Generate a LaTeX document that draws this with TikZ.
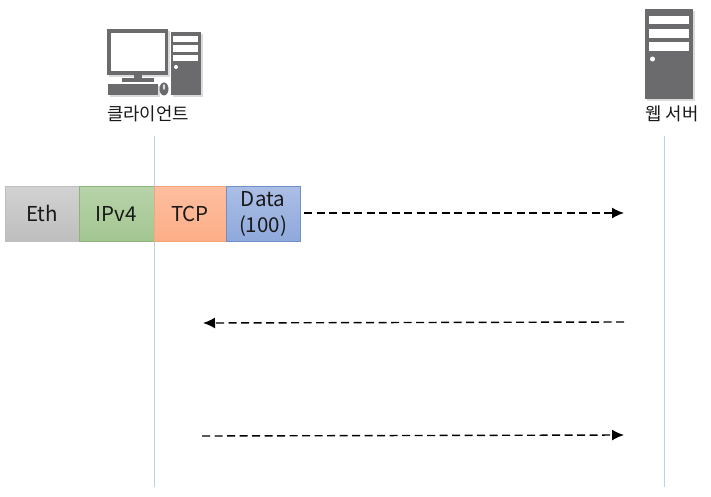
\documentclass[tikz,border=0pt]{standalone}
\usepackage{fontspec}
\setmainfont{Noto Sans CJK KR}
\usepackage{tikz}
\usetikzlibrary{arrows.meta}

\definecolor{icon}{HTML}{6B6B6D}
\definecolor{lifeline}{HTML}{BCD0E6}
\definecolor{ethtop}{HTML}{D2D2D2}
\definecolor{ethbot}{HTML}{BEBEBE}
\definecolor{iptop}{HTML}{B7D3AA}
\definecolor{ipbot}{HTML}{A3C691}
\definecolor{ipline}{HTML}{8DB57A}
\definecolor{tcptop}{HTML}{FDBE9F}
\definecolor{tcpbot}{HTML}{FDAE87}
\definecolor{tcpline}{HTML}{F5A67A}
\definecolor{datatop}{HTML}{ABBEE5}
\definecolor{databot}{HTML}{8FA9DC}
\definecolor{dataline}{HTML}{7090CC}

\begin{document}
\begin{tikzpicture}[x=1pt,y=-1pt]
  \tikzset{field/.style = {shape=rectangle,draw,minimum height=55pt,inner sep=0pt,font=\fontsize{20.5}{26}\selectfont,text=black!90,align=center}}
  \tikzset{caption/.style = {inner sep=0pt,font=\fontsize{17.8}{20}\selectfont,text=black!90}}
  \tikzset{msg/.style = {-{Latex[length=12pt,width=11pt]},dashed,dash pattern=on 8pt off 4.5pt,line width=1.4pt,black}}
  \tikzset{life/.style = {lifeline,line width=0.9pt}}
  \tikzset{shadow/.style = {fill=black!14,draw=none}}
  \tikzset{part/.style = {fill=icon,draw=none}}
  \tikzset{bay/.style = {fill=white,draw=none}}

  \useasboundingbox (0,0) rectangle (711,497);

  \node[caption] (C) at (148,114) {클라이언트};
  \node[caption] (S) at (672,114) {웹 서버};

  \coordinate (Ct) at (154.6,136);
  \coordinate (Cb) at (154.6,487);
  \coordinate (St) at (664,136);
  \coordinate (Sb) at (664,487);
  \foreach \from/\to in {Ct/Cb, St/Sb}
    \draw[life] (\from) -- (\to);

  % client
  \fill[shadow] (109,31) rectangle (170,77);
  \fill[shadow] (173,34) rectangle (203,97);
  \fill[shadow] (110,86) rectangle (160,97);
  \fill[part] (107,29) rectangle (168,75);
  \fill[bay] (111,33) rectangle (165,71);
  \fill[part] (134,75) rectangle (142,79);
  \fill[part] (122,78) rectangle (154,82);
  \fill[part] (108,84) rectangle (158,95);
  \fill[part] (164,89) ellipse [x radius=4.5,y radius=6.5];
  \fill[white!75!icon] (164,87) ellipse [x radius=1.2,y radius=3];
  \fill[part] (171,32) rectangle (201,95);
  \foreach \upper/\lower in {36/42, 45/52, 55/61}
    \fill[bay] (173,\upper) rectangle (198,\lower);
  \fill[bay] (176,67) circle (2);

  % server
  \fill[shadow] (647,11) rectangle (695,101);
  \fill[part] (645,9) rectangle (693,99);
  \foreach \upper/\lower in {16/24, 29/38, 42/51}
    \fill[bay] (649,\upper) rectangle (689,\lower);
  \fill[bay] (652.5,59) circle (2.5);

  % packet
  \node[field,minimum width=74pt,draw=ethbot,top color=ethtop,bottom color=ethbot] (Eth) at (42,213.5) {Eth};
  \node[field,minimum width=75pt,draw=ipline,top color=iptop,bottom color=ipbot] (IP) at (116.5,213.5) {IPv4};
  \node[field,minimum width=72pt,draw=tcpline,top color=tcptop,bottom color=tcpbot] (TCP) at (190,213.5) {TCP};
  \node[field,minimum width=74pt,draw=dataline,top color=datatop,bottom color=databot] (Data) at (263,213.5) {Data\\(100)};

  \coordinate (A1) at (304,213);
  \coordinate (A2) at (624,213);
  \coordinate (B1) at (624,322);
  \coordinate (B2) at (203,323);
  \coordinate (D1) at (202,436);
  \coordinate (D2) at (624,435);
  \foreach \from/\to in {A1/A2, B1/B2, D1/D2}
    \draw[msg] (\from) -- (\to);
\end{tikzpicture}
\end{document}
